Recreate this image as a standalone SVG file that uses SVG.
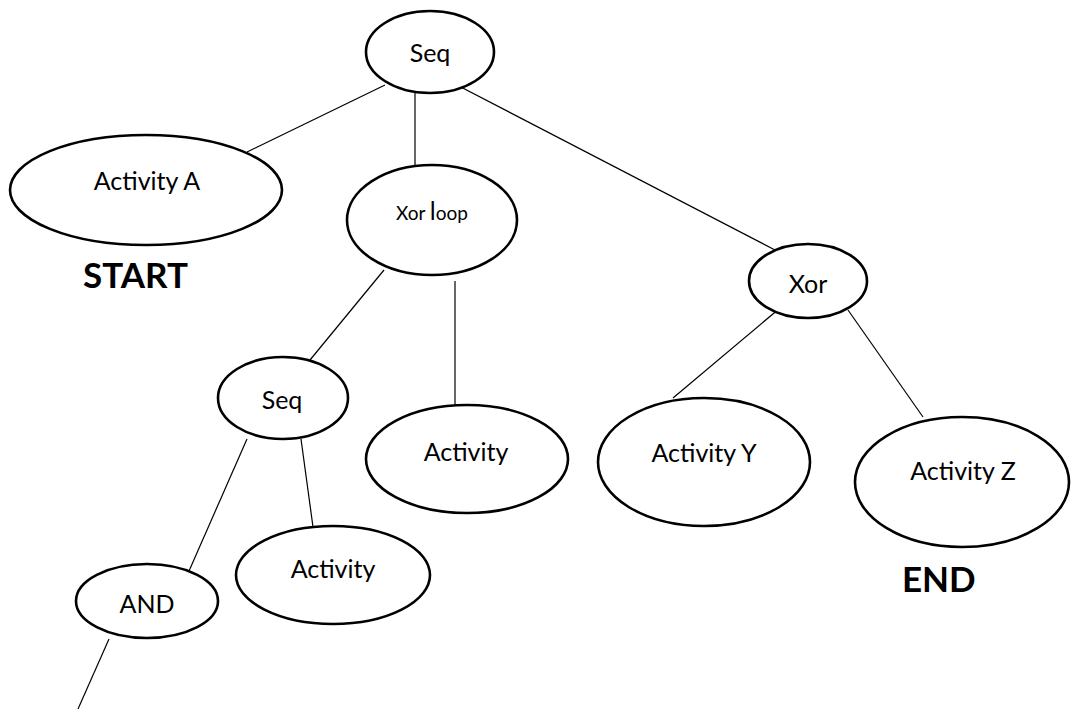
<svg xmlns="http://www.w3.org/2000/svg" width="1074" height="709" viewBox="0 0 1074 709">
  <style>
    .node ellipse { fill: #ffffff; stroke: #000000; stroke-width: 2.6; }
    .node text { font-family: Lato, "Liberation Sans", sans-serif; font-size: 25px; fill: #000000; text-anchor: middle; }
    .edges line { stroke: #000000; stroke-width: 1.2; }
    .tag { font-family: Lato, "Liberation Sans", sans-serif; font-weight: bold; font-size: 35px; fill: #000000; }
  </style>
  <rect width="1074" height="709" fill="#ffffff"/>

  <!-- tree edges -->
  <g id="edges" class="edges">
    <line x1="385" y1="85" x2="247" y2="152"/>
    <line x1="415" y1="85" x2="415" y2="165"/>
    <line x1="455" y1="84" x2="775" y2="250"/>
    <line x1="384" y1="270" x2="310" y2="360"/>
    <line x1="455" y1="281" x2="455" y2="406"/>
    <line x1="780" y1="308" x2="673" y2="398"/>
    <line x1="848" y1="310" x2="923" y2="417"/>
    <line x1="247" y1="439" x2="189" y2="571"/>
    <line x1="301" y1="439" x2="313" y2="527"/>
    <line x1="109" y1="639" x2="78" y2="709"/>
  </g>

  <g id="seq-root" class="node">
    <ellipse cx="430" cy="52" rx="64" ry="41"/>
    <text x="430" y="62">Seq</text>
  </g>
  <g id="activity-a" class="node">
    <ellipse cx="146" cy="190" rx="136" ry="55"/>
    <text x="147" y="190">Activity A</text>
  </g>
  <g id="xor-loop" class="node">
    <ellipse cx="432" cy="220" rx="85" ry="55"/>
    <text x="432" y="220" style="font-size:19px">Xor <tspan style="font-size:25px">l</tspan>oop</text>
  </g>
  <g id="xor" class="node">
    <ellipse cx="808" cy="281" rx="59" ry="37"/>
    <text x="808" y="293">Xor</text>
  </g>
  <g id="seq-inner" class="node">
    <ellipse cx="283" cy="398" rx="65" ry="41"/>
    <text x="282" y="409">Seq</text>
  </g>
  <g id="activity-loop" class="node">
    <ellipse cx="467" cy="459" rx="101" ry="54"/>
    <text x="466" y="461">Activity</text>
  </g>
  <g id="activity-y" class="node">
    <ellipse cx="704" cy="462" rx="106" ry="64"/>
    <text x="704" y="462">Activity Y</text>
  </g>
  <g id="activity-z" class="node">
    <ellipse cx="962" cy="482" rx="107" ry="65"/>
    <text x="963" y="480">Activity Z</text>
  </g>
  <g id="activity-seq" class="node">
    <ellipse cx="333" cy="575" rx="97" ry="49"/>
    <text x="333" y="578">Activity</text>
  </g>
  <g id="and" class="node">
    <ellipse cx="147" cy="601" rx="71" ry="37"/>
    <text x="147" y="613">AND</text>
  </g>

  <text id="start-label" class="tag" x="83" y="288">START</text>
  <text id="end-label" class="tag" x="902" y="592">END</text>
</svg>
